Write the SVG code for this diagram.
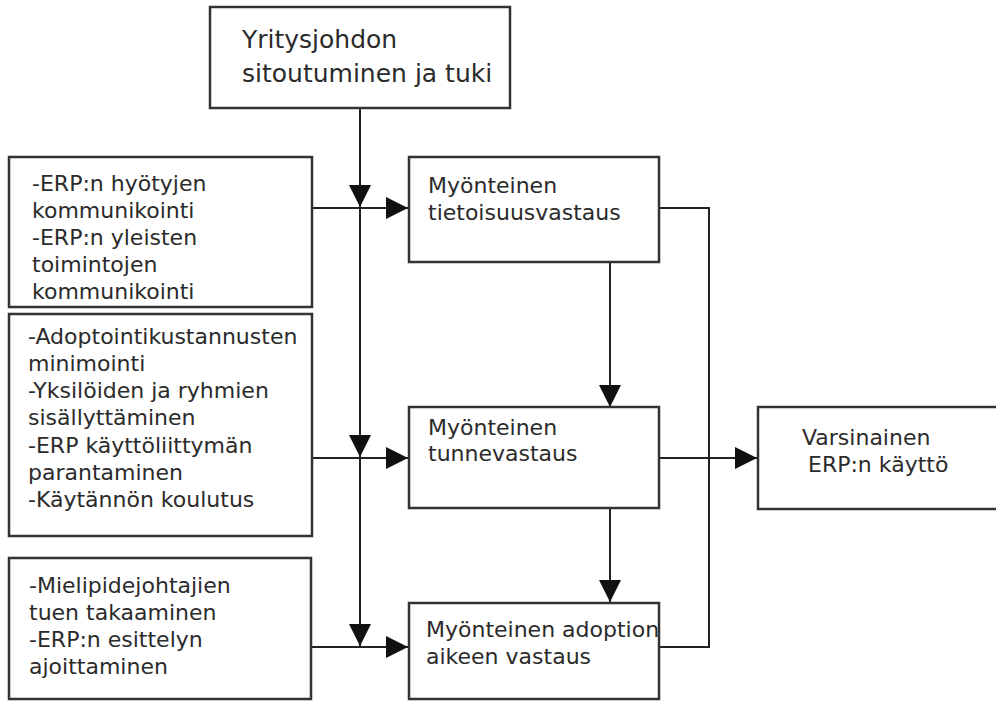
<svg xmlns="http://www.w3.org/2000/svg" width="996" height="702" viewBox="0 0 996 702">
<defs>
<style>
.box{fill:#fff;stroke:#333;stroke-width:2.5}
.t{font-family:"DejaVu Sans",Verdana,sans-serif;font-size:22px;fill:#2b2b2b}
.big{font-size:25px}
.ln{fill:none;stroke:#222;stroke-width:2}
</style>
<marker id="ah" viewBox="0 0 22 22" refX="22" refY="11" markerWidth="22" markerHeight="22" markerUnits="userSpaceOnUse" orient="auto">
<path d="M0,0 L22,11 L0,22 z" fill="#111"/>
</marker>
</defs>
<rect width="996" height="702" fill="#fff"/>

<g id="connectors">
<path class="ln" d="M360,108 V207" marker-end="url(#ah)"/>
<path class="ln" d="M360,207 V457" marker-end="url(#ah)"/>
<path class="ln" d="M360,457 V646" marker-end="url(#ah)"/>
<path class="ln" d="M312,208 H408" marker-end="url(#ah)"/>
<path class="ln" d="M312,458 H408" marker-end="url(#ah)"/>
<path class="ln" d="M312,647 H408" marker-end="url(#ah)"/>
<path class="ln" d="M610,262 V407" marker-end="url(#ah)"/>
<path class="ln" d="M610,508 V602" marker-end="url(#ah)"/>
<path class="ln" d="M659,208 H709 V647 H659"/>
<path class="ln" d="M659,458 H757" marker-end="url(#ah)"/>
</g>

<g id="top">
<rect class="box" x="210" y="7" width="300" height="101"/>
<text class="t big" x="242" y="48">Yritysjohdon</text>
<text class="t big" x="242" y="82">sitoutuminen ja tuki</text>
</g>

<g id="left1">
<rect class="box" x="9" y="157" width="303" height="150"/>
<text class="t" x="32" y="191">-ERP:n hyötyjen</text>
<text class="t" x="32" y="218">kommunikointi</text>
<text class="t" x="32" y="245">-ERP:n yleisten</text>
<text class="t" x="32" y="272">toimintojen</text>
<text class="t" x="32" y="299">kommunikointi</text>
</g>

<g id="left2">
<rect class="box" x="9" y="314" width="303" height="222"/>
<text class="t" x="28" y="344">-Adoptointikustannusten</text>
<text class="t" x="28" y="371">minimointi</text>
<text class="t" x="28" y="398">-Yksilöiden ja ryhmien</text>
<text class="t" x="28" y="425">sisällyttäminen</text>
<text class="t" x="28" y="453">-ERP käyttöliittymän</text>
<text class="t" x="28" y="480">parantaminen</text>
<text class="t" x="28" y="507">-Käytännön koulutus</text>
</g>

<g id="left3">
<rect class="box" x="9" y="558" width="302" height="141"/>
<text class="t" x="29" y="593">-Mielipidejohtajien</text>
<text class="t" x="29" y="620">tuen takaaminen</text>
<text class="t" x="29" y="647">-ERP:n esittelyn</text>
<text class="t" x="29" y="674">ajoittaminen</text>
</g>

<g id="awareness">
<rect class="box" x="409" y="157" width="250" height="105"/>
<text class="t" x="428" y="193">Myönteinen</text>
<text class="t" x="428" y="220">tietoisuusvastaus</text>
</g>

<g id="affective">
<rect class="box" x="409" y="407" width="250" height="101"/>
<text class="t" x="428" y="435">Myönteinen</text>
<text class="t" x="428" y="461">tunnevastaus</text>
</g>

<g id="adoption">
<rect class="box" x="409" y="603" width="250" height="96"/>
<text class="t" x="426" y="637">Myönteinen adoption</text>
<text class="t" x="426" y="664">aikeen vastaus</text>
</g>

<g id="usage">
<rect class="box" x="758" y="407" width="260" height="102"/>
<text class="t" x="802" y="445">Varsinainen</text>
<text class="t" x="808" y="472">ERP:n käyttö</text>
</g>
</svg>
